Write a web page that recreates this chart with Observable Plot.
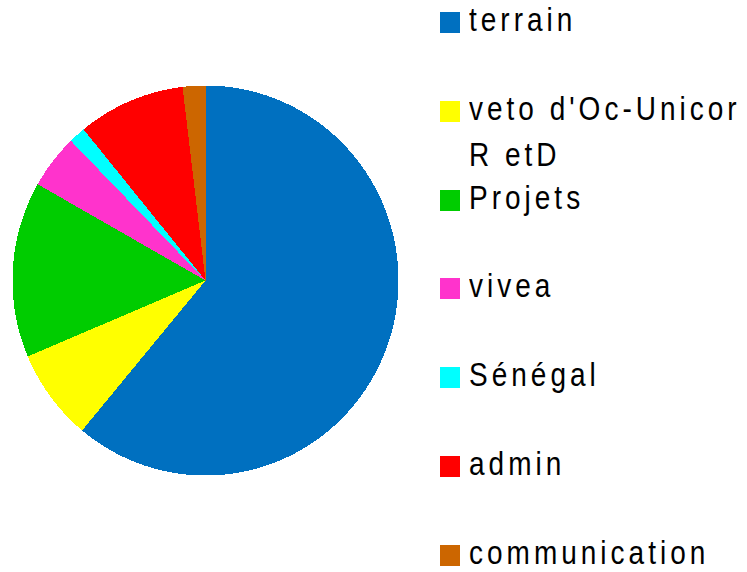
<!DOCTYPE html>
<html>
<head>
<meta charset="utf-8">
<script src="https://cdn.jsdelivr.net/npm/d3@7"></script>
<script src="https://cdn.jsdelivr.net/npm/@observablehq/plot@0.6"></script>
<style>
  html, body { margin: 0; padding: 0; background: #fff; }
  #wrap { position: relative; width: 747px; height: 572px; overflow: hidden; }
  #chart { position: absolute; left: 0; top: 0; }
  #chart svg { shape-rendering: crispEdges; }
  .leg { position: absolute; left: 440px; font-family: "Liberation Sans", Arial, sans-serif;
         font-size: 28px; letter-spacing: 4px; color: #000; }
  .leg .sw { position: absolute; left: 0; top: 0; width: 20px; height: 21px; }
  .leg .lab { position: absolute; left: 29px; top: -15px; line-height: 38.5px; white-space: nowrap;
              transform: scaleY(1.2); transform-origin: 0 0; }
</style>
</head>
<body>
<div id="wrap"><div id="chart"></div></div>
<script>
const categories = ["terrain", "veto d'Oc-Unicor\nR etD", "Projets", "vivea", "Sénégal", "admin", "communication"];
const values = [61.1, 7.6, 14.6, 4.5, 1.4, 9.0, 1.9];
const colors = ["#0070C0", "#FFFF00", "#00CC00", "#FF33CC", "#00FFFF", "#FF0000", "#CC6600"];

const arcs = d3.pie().sort(null).value(d => d.value)(categories.map((name, i) => ({name, value: values[i]})));
const pts = [];
for (const a of arcs) {
  const name = a.data.name;
  pts.push({name, x: 0, y: 0});
  const n = Math.max(2, Math.ceil((a.endAngle - a.startAngle) / 0.005));
  for (let k = 0; k <= n; k++) {
    const t = a.startAngle + (a.endAngle - a.startAngle) * k / n;
    pts.push({name, x: Math.sin(t), y: Math.cos(t)});
  }
  pts.push({name, x: 0, y: 0});
}

const chart = Plot.plot({
  width: 420,
  height: 572,
  margin: 0,
  x: {domain: [-1, 1], range: [12, 398], axis: null},
  y: {domain: [-1, 1], range: [475, 85], axis: null},
  color: {domain: categories, range: colors},
  marks: [
    Plot.line(pts, {x: "x", y: "y", z: "name", fill: "name", stroke: null, curve: "linear"})
  ]
});
document.getElementById("chart").appendChild(chart);

const wrap = document.getElementById("wrap");
categories.forEach((c, i) => {
  const item = document.createElement("div");
  item.className = "leg";
  item.style.top = (12 + i * 88.8) + "px";
  const sw = document.createElement("div");
  sw.className = "sw";
  sw.style.background = colors[i];
  const lab = document.createElement("div");
  lab.className = "lab";
  lab.innerHTML = c.split("\n").map(s => s.replace(/&/g, "&amp;").replace(/</g, "&lt;")).join("<br>");
  item.appendChild(sw);
  item.appendChild(lab);
  wrap.appendChild(item);
});
</script>
</body>
</html>
